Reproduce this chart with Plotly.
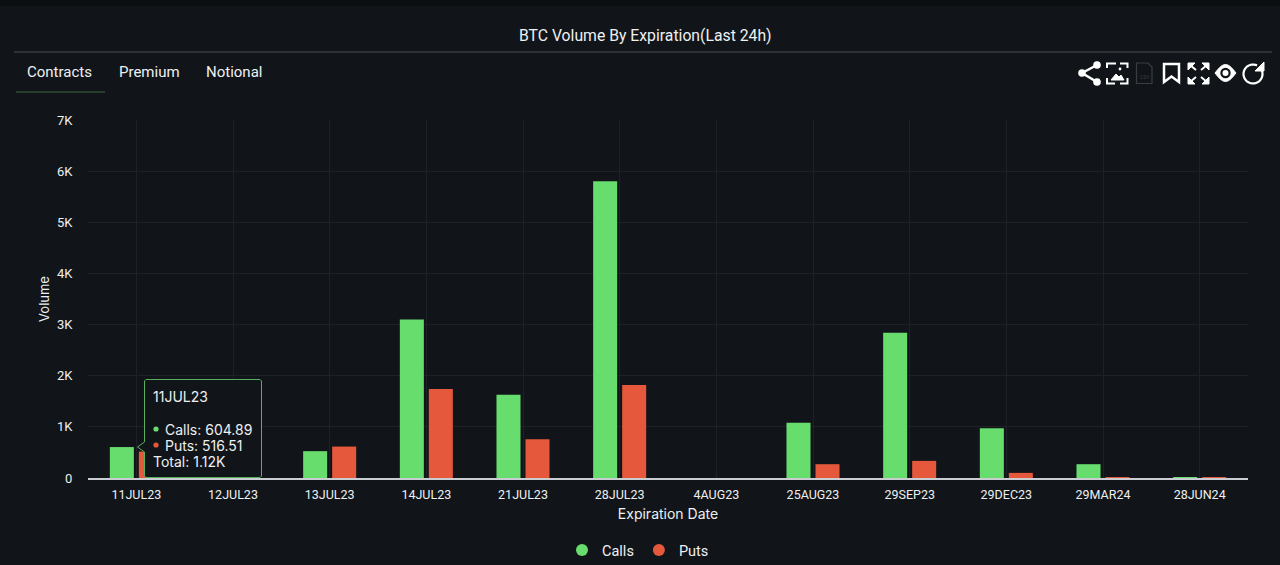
import math
import plotly.graph_objects as go

expirations = ["11JUL23", "12JUL23", "13JUL23", "14JUL23", "21JUL23", "28JUL23",
               "4AUG23", "25AUG23", "29SEP23", "29DEC23", "29MAR24", "28JUN24"]
calls = [604.89, 0, 525, 3100, 1630, 5800, 0, 1080, 2840, 975, 270, 15]
puts = [516.51, 0, 615, 1740, 760, 1820, 0, 270, 335, 100, 15, 12]
y_tick_vals = [0, 1000, 2000, 3000, 4000, 5000, 6000, 7000]
y_tick_labels = ["0", "1K", "2K", "3K", "4K", "5K", "6K", "7K"]
tabs = ["Contracts", "Premium", "Notional"]
tooltip_total = "1.12K"

BG = "#111519"
GRID = "#1d2226"
TEXT = "#eef0f2"
GREEN = "#67dd6e"
RED = "#e5583b"
FONT = "Roboto"

# plot area in pixels
L, R, T, B = 88, 1248, 120, 478


def px(x, y):
    return (x - L) / (R - L), (B - y) / (B - T)


def pth(*pts, close=False):
    s = ""
    for i, (x, y) in enumerate(pts):
        a, b = px(x, y)
        s += ("M" if i == 0 else "L") + f"{a:.5f},{b:.5f} "
    return s + ("Z" if close else "")


def line(*pts, color="white", width=2.5, fill=None, close=False):
    d = dict(type="path", xref="paper", yref="paper", path=pth(*pts, close=close),
             line=dict(color=color, width=width), layer="above")
    if fill:
        d["fillcolor"] = fill
    return d


def circle(cx, cy, r, fill="white"):
    x0, y0 = px(cx - r, cy + r)
    x1, y1 = px(cx + r, cy - r)
    return dict(type="circle", xref="paper", yref="paper", x0=x0, y0=y0, x1=x1, y1=y1,
                fillcolor=fill, line=dict(width=0), layer="above")


def label(x, y, text, size=14, color=TEXT, anchor="left", family=FONT):
    a, b = px(x, y)
    return dict(x=a, y=b, xref="paper", yref="paper", text=text, showarrow=False,
                xanchor=anchor, yanchor="middle", font=dict(family=family, size=size, color=color))


fig = go.Figure()
fig.add_trace(go.Bar(x=expirations, y=calls, name="Calls", marker_color=GREEN,
                     marker_line_width=0, showlegend=False))
fig.add_trace(go.Bar(x=expirations, y=puts, name="Puts", marker_color=RED,
                     marker_line_width=0, showlegend=False))
# round legend markers
fig.add_trace(go.Scatter(x=[None], y=[None], name="Calls", mode="markers",
                         marker=dict(color=GREEN, size=15)))
fig.add_trace(go.Scatter(x=[None], y=[None], name="Puts", mode="markers",
                         marker=dict(color=RED, size=15)))

shapes = []
# top strip, header rule, active tab
shapes.append(line((0, 3), (1280, 3), color="#0c0f11", width=6))
shapes.append(line((14, 52), (1272, 52), color="#4a4d50", width=1))
shapes.append(line((16, 92), (105, 92), color="#3d6b40", width=1))

# share
shapes += [line((1097, 65), (1082, 73), (1097, 82)),
           circle(1097, 65, 3.8), circle(1082, 73, 3.8), circle(1097, 82, 3.8)]
# image
for pts in [[(1107, 68), (1107, 63.5), (1116, 63.5)], [(1120, 63.5), (1127.5, 63.5), (1127.5, 68)],
            [(1127.5, 78), (1127.5, 83.5), (1120, 83.5)], [(1115, 83.5), (1107, 83.5), (1107, 78)]]:
    shapes.append(line(*pts, width=2))
shapes.append(line((1111, 80), (1116, 74), (1119, 77), (1121, 75), (1124, 80), width=1, fill="white", close=True))
shapes.append(circle(1120, 69, 1.4))
# csv
shapes.append(line((1136.5, 63), (1148, 63), (1152, 67), (1152, 83.5), (1136.5, 83.5),
                   color="#3a3e42", width=1.2, close=True))
# bookmark
shapes.append(line((1164, 64), (1179, 64), (1179, 82), (1171.5, 76.5), (1164, 82), width=2.5, close=True))
# expand
for cx, cy, sx, sy in [(1188, 63, 1, 1), (1209, 63, -1, 1), (1188, 84, 1, -1), (1209, 84, -1, -1)]:
    shapes.append(line((cx, cy), (cx + sx * 7, cy), (cx, cy + sy * 7), width=1, fill="white", close=True))
    shapes.append(line((cx + sx * 2, cy + sy * 2), (cx + sx * 8, cy + sy * 7), width=2))
# eye
eye = [(1215 + 21 * i / 20, 73 - 8.5 * math.sin(math.pi * i / 20)) for i in range(21)]
eye += [(1236 - 21 * i / 20, 73 + 8.5 * math.sin(math.pi * i / 20)) for i in range(21)]
shapes.append(line(*eye, width=1, fill="white", close=True))
shapes += [circle(1225.5, 73, 5.2, BG), circle(1225.5, 73, 3)]
# refresh
arc = [(1253 + 9.5 * math.cos(math.radians(a)), 74 + 9.5 * math.sin(math.radians(a)))
       for a in range(-25, 301, 10)]
shapes.append(line(*arc, width=2.2))
shapes.append(line((1255, 71), (1264, 71), (1264, 62), width=1, fill="white", close=True))

# tooltip box
shapes.append(line((146, 379.5), (260, 379.5), (261.5, 381), (261.5, 476), (260, 477.5), (146, 477.5),
                   (144.5, 476), (144.5, 452), (137.5, 447), (144.5, 442), (144.5, 381),
                   color="#58b060", width=1, fill=BG, close=True))
shapes += [circle(156, 429, 2.6, GREEN), circle(156, 445, 2.6, RED)]

annotations = [label(645, 36, "BTC Volume By Expiration(Last 24h)", size=15.75, anchor="center")]
for x, t in zip([24.5, 116.5, 204], tabs):
    annotations.append(label(x, 72, t, size=15))
annotations.append(label(1144.5, 76.5, "CSV", size=5, color="#3a3e42", anchor="center"))
annotations += [
    label(151, 396, expirations[0], size=14, family="Inter"),
    label(162.5, 429, f"Calls: {calls[0]}", size=14, family="Inter"),
    label(162.5, 445, f"Puts: {puts[0]}", size=14, family="Inter"),
    label(151, 461, f"Total: {tooltip_total}", size=14, family="Inter"),
]

fig.update_layout(
    width=1280, height=565,
    margin=dict(l=L, r=1280 - R, t=T, b=565 - B, pad=0, autoexpand=False),
    paper_bgcolor=BG, plot_bgcolor=BG,
    font=dict(family=FONT, size=12.5, color=TEXT),
    barmode="group", bargap=0.40, bargroupgap=0.172,
    shapes=shapes, annotations=annotations,
    hovermode=False,
    legend=dict(orientation="h", x=(638 - L) / (R - L), xanchor="center",
                y=(B - 550) / (B - T), yanchor="middle", font=dict(size=14.5, color=TEXT),
                itemsizing="constant", bgcolor="rgba(0,0,0,0)"),
)
fig.update_xaxes(type="category", categoryorder="array", categoryarray=expirations,
                 range=[-0.5, 11.5], showgrid=True, gridcolor=GRID, gridwidth=1,
                 showline=True, linecolor="#c9ccd0", linewidth=1.5,
                 ticks="outside", ticklen=4, tickcolor="rgba(0,0,0,0)", automargin=False,
                 tickangle=0, zeroline=False,
                 title=dict(text="Expiration Date", standoff=8, font=dict(size=14, family="Inter")))
fig.update_yaxes(range=[0, 7000], tickmode="array", tickvals=y_tick_vals, ticktext=y_tick_labels,
                 showgrid=True, gridcolor=GRID, gridwidth=1, zeroline=False, showline=False,
                 ticks="outside", ticklen=12, tickcolor="rgba(0,0,0,0)", automargin=False,
                 tickfont=dict(size=13),
                 title=dict(text="Volume", standoff=4, font=dict(size=13, family="Inter")))

fig.write_html("out.html", config=dict(displayModeBar=False),
               post_script="document.body.style.margin='0';document.body.style.background='" + BG + "';")
